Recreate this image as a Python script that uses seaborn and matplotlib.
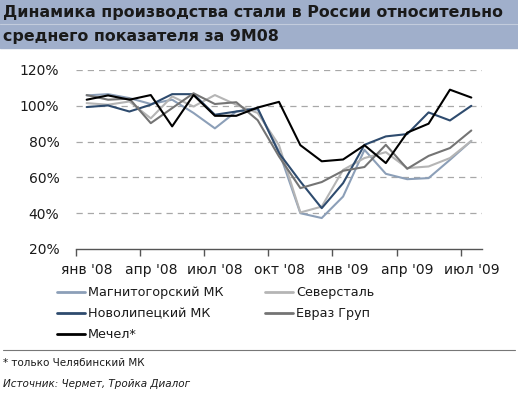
"""
Динамика производства стали в России относительно среднего показателя за 9М08
"""

import matplotlib.pyplot as plt
import pandas as pd
import seaborn as sns
from matplotlib.lines import Line2D

### Данные (% от среднего за 9М08), янв '08 - июл '09
MONTHS = list(range(19))
TICK_LABELS = ["янв '08", "апр '08", "июл '08", "окт '08",
               "янв '09", "апр '09", "июл '09"]

MAGNITOGORSK = [105.8, 106.5, 104.3, 101, 103.4, 96, 87.4, 96.8, 98,
                74.5, 40, 37.3, 49.3, 75.4, 62, 59, 59.6, 69.8, 80.4]
SEVERSTAL = [101.5, 100.6, 102.4, 93, 105.2, 99.6, 106, 100.6, 96,
             78, 40.4, 43.7, 64.2, 70.8, 74.1, 65.2, 66.1, 70.8, 80.4]
NOVOLIPETSK = [99.3, 100.2, 96.8, 100.6, 106.5, 106.5, 95, 96.8, 98.7,
               73.6, 57.7, 42.8, 56.8, 78.2, 82.9, 84.2, 96.3, 91.8, 100]
EVRAZ = [106, 103.4, 104, 90.3, 98.7, 107, 101, 102, 92,
         71.7, 54, 57.4, 63.7, 65.8, 78.2, 64.8, 72, 76.4, 86.2]
MECHEL = [103.4, 105.8, 103.4, 106, 88.5, 106, 94.4, 94.4, 99,
          102.2, 78, 69, 70, 78, 68, 85, 90, 109, 104.6]

SERIES = {
    "Магнитогорский МК": MAGNITOGORSK,
    "Северсталь": SEVERSTAL,
    "Новолипецкий МК": NOVOLIPETSK,
    "Евраз Груп": EVRAZ,
    "Мечел*": MECHEL,
}
COLORS = {
    "Магнитогорский МК": "#8C9FB8",
    "Северсталь": "#B5B5B5",
    "Новолипецкий МК": "#2E4B6E",
    "Евраз Груп": "#747474",
    "Мечел*": "#000000",
}

TEXT = "#1A1A1A"
BAND = "#A0AFCB"


def main() -> None:
    sns.set_theme(style="white")
    plt.rcParams["font.family"] = ["DejaVu Sans"]

    df = pd.concat(
        [pd.DataFrame({"месяц": MONTHS, "значение": v, "компания": k})
         for k, v in SERIES.items()],
        ignore_index=True,
    )

    fig = plt.figure(figsize=(5.18, 3.97), dpi=100)
    fig.patch.set_facecolor("white")
    ax = fig.add_axes([0.1467, 0.3728, 0.7838, 0.4509])

    sns.lineplot(data=df, x="месяц", y="значение", hue="компания",
                 palette=COLORS, linewidth=1.5, legend=False, ax=ax)

    ax.set_ylim(20, 120)
    ax.set_xlim(-0.5, 18.5)
    ax.set_yticks([20, 40, 60, 80, 100, 120])
    ax.set_yticklabels([f"{v}%" for v in range(20, 121, 20)],
                       fontsize=10, color=TEXT)
    ax.tick_params(axis="y", length=0, pad=12)
    for v in range(40, 121, 20):
        ax.axhline(v, color="#A8A8A8", linewidth=0.9, linestyle=(0, (5, 4)),
                   zorder=0)

    # Засечки на границах кварталов, подписи по центру месяца
    ax.set_xticks([-0.5 + 3 * i for i in range(7)])
    ax.set_xticklabels([])
    ax.set_xticks(list(range(0, 19, 3)), minor=True)
    ax.set_xticklabels(TICK_LABELS, minor=True, fontsize=10, color=TEXT)
    ax.tick_params(axis="x", which="major", length=5, width=1,
                   color="#555555", direction="out", bottom=True)
    ax.tick_params(axis="x", which="minor", length=0, pad=10)
    ax.set_xlabel("")
    ax.set_ylabel("")

    for side in ["left", "right", "top"]:
        ax.spines[side].set_visible(False)
    ax.spines["bottom"].set_color("#555555")
    ax.spines["bottom"].set_linewidth(1.0)

    ### Легенда
    handles = [Line2D([0], [0], color=COLORS[k], linewidth=2) for k in SERIES]
    order = [0, 2, 4, 1, 3]
    fig.legend([handles[i] for i in order],
               [list(SERIES)[i] for i in order],
               loc="upper left", bbox_to_anchor=(0.098, 0.295), ncol=2,
               frameon=False, fontsize=9.2, handlelength=2.15,
               handletextpad=0.25, columnspacing=3.3, labelspacing=0.62,
               borderpad=0, labelcolor=TEXT)

    ### Заголовок на цветной полосе
    fig.patches.append(plt.Rectangle((0, 1 - 48 / 397), 1, 48 / 397,
                                     color=BAND, transform=fig.transFigure,
                                     zorder=0))
    fig.lines.append(Line2D([0, 1], [1 - 24 / 397] * 2, color="#C3CCDD",
                            linewidth=0.8, transform=fig.transFigure))
    fig.text(0.006, 1 - 12 / 397, "Динамика производства стали в России относительно",
             fontsize=11.4, fontweight="bold", color=TEXT, va="center")
    fig.text(0.006, 1 - 36 / 397, "среднего показателя за 9М08",
             fontsize=11.4, fontweight="bold", color=TEXT, va="center")

    ### Разделитель и примечания
    fig.lines.append(Line2D([0.006, 0.994], [1 - 350 / 397] * 2,
                            color="#777777", linewidth=0.8,
                            transform=fig.transFigure))
    fig.text(0.006, 1 - 363 / 397, "* только Челябинский МК",
             fontsize=7.5, color=TEXT, va="center")
    fig.text(0.006, 1 - 384 / 397, "Источник: Чермет, Тройка Диалог",
             fontsize=7.5, color=TEXT, va="center", style="italic")

    fig.savefig("out.png", dpi=100, facecolor="white")
    plt.close(fig)


if __name__ == "__main__":
    main()
